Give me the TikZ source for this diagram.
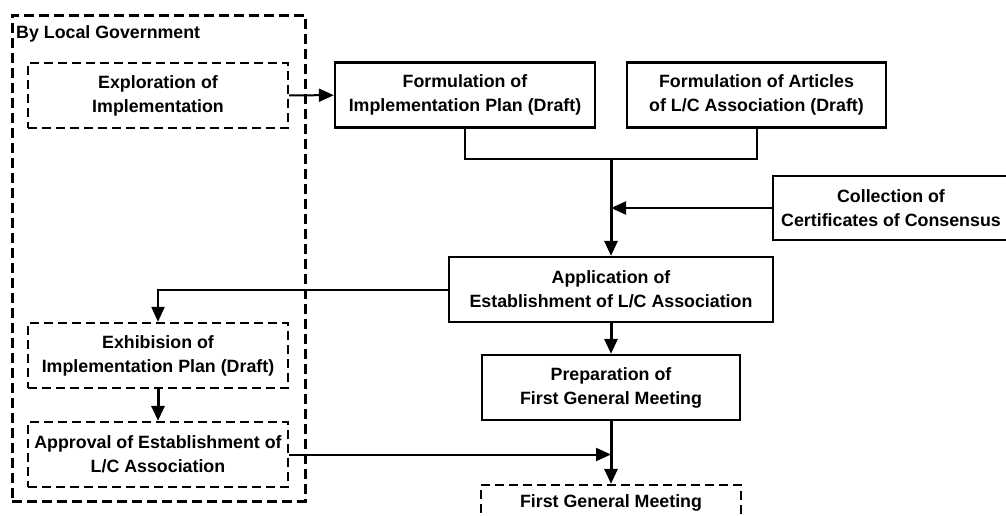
\documentclass[tikz,border=0pt]{standalone}
\usepackage{fontspec}
\setmainfont{Liberation Sans}
\usetikzlibrary{arrows.meta}

\begin{document}
\begin{tikzpicture}[x=1pt, y=-1pt,
  font=\fontsize{17.8}{24}\selectfont\bfseries,
  box/.style={draw, line width=2.3pt, align=center, inner sep=0pt,
              minimum width=260pt, minimum height=65pt},
  dbox/.style={box, dash pattern=on 9pt off 5pt},
  group/.style={draw, line width=3pt, dash pattern=on 10pt off 5pt,
                inner sep=0pt},
  tip/.style={-{Triangle[length=15pt, width=13pt]}},
  vline/.style={line width=3pt},
  hline/.style={line width=2pt}]

\useasboundingbox (0,0) rectangle (1006,515);
\clip (0,0) rectangle (1006,515);

% group frame for the steps taken by the local government
\node[group, minimum width=293pt, minimum height=486pt] (lgov) at (158.5,258) {};
\node[anchor=base west, inner sep=0pt] (lgovlabel) at (16,38) {By Local Government};

% process steps
\node[dbox] (explore) at (158,95.5) {Exploration of\\Implementation};
\node[box] (implan) at (465,95) {Formulation of\\Implementation Plan (Draft)};
\node[box, minimum width=259pt] (articles) at (756.5,95) {Formulation of Articles\\of L/C Association (Draft)};
\node[box, minimum width=236pt, minimum height=64pt] (collect) at (891,208) {Collection of\\Certificates of Consensus};
\node[box, minimum width=324pt] (apply) at (611,289.5) {Application of\\Establishment of L/C Association};
\node[dbox] (exhibit) at (158,355.5) {Exhibision of\\Implementation Plan (Draft)};
\node[dbox] (approve) at (158,454.5) {Approval of Establishment of\\L/C Association};
\node[box, minimum width=258pt] (prep) at (611,387.5) {Preparation of\\First General Meeting};
\node[dbox, minimum height=35pt] (fgm) at (611,502.5) {First General Meeting};

% connectors
\coordinate (merge) at (611,159);
\draw[hline, tip] (explore) -- (implan);
\draw[hline] (implan.south) -- (implan.south |- merge) -- (articles.south |- merge) -- (articles.south);
\draw[vline, tip] (merge) -- (apply.north);
\draw[hline, tip] (collect.west) -- (collect.west -| apply.north);
\draw[hline, tip] (apply.west) -| (exhibit.north);
\draw[vline, tip] (exhibit) -- (approve);
\draw[vline, tip] (apply) -- (prep);
\draw[vline, tip] (prep) -- (fgm);
\draw[hline, tip] (approve.east) -- (approve.east -| prep.south);

\end{tikzpicture}
\end{document}
